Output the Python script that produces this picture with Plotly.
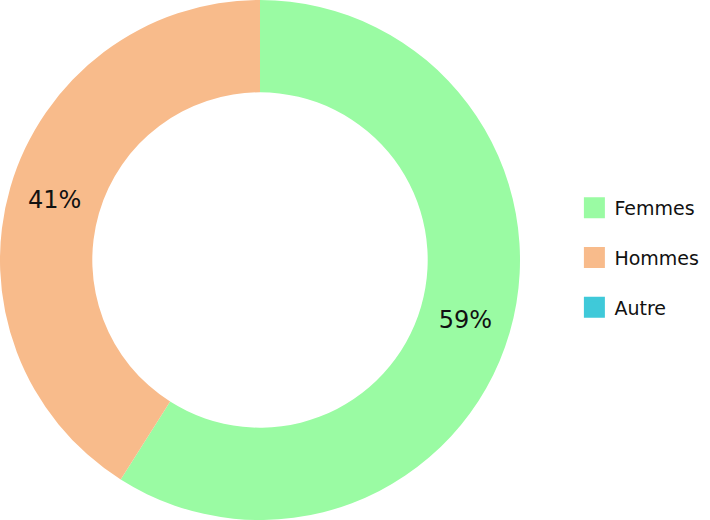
import plotly.graph_objects as go

labels = ["Femmes", "Hommes", "Autre"]
values = [59, 41, 0]
colors = ["#9afba3", "#f8bb8b", "#3fc9d9"]

total = sum(values)
texts = [f"{round(v / total * 100)}%" if v > 0 else "" for v in values]

fig = go.Figure()
fig.add_trace(go.Pie(
    labels=labels, values=values, text=texts,
    textinfo="text", textposition="inside", insidetextorientation="horizontal",
    hole=0.645, sort=False, direction="clockwise", rotation=0,
    marker=dict(colors=colors, line=dict(width=0)),
    textfont=dict(family="DejaVu Sans", size=24, color="#111111"),
    domain=dict(x=[0, 520 / 710], y=[0, 1]),
    showlegend=False, hoverinfo="none",
))

for lab, col in zip(labels, colors):
    fig.add_trace(go.Scatter(
        x=[None], y=[None], mode="markers", name=lab,
        legendgroup=lab,
        marker=dict(symbol="square", size=16, color=col, line=dict(color=col, width=5)),
        showlegend=True,
    ))

fig.update_layout(
    width=710, height=520,
    margin=dict(l=0, r=0, t=0, b=0),
    paper_bgcolor="white", plot_bgcolor="white",
    xaxis=dict(visible=False), yaxis=dict(visible=False),
    legend=dict(
        x=0.809, xanchor="left", y=0.504, yanchor="middle",
        font=dict(family="DejaVu Sans", size=19, color="#111111"),
        tracegroupgap=22, itemclick=False, itemdoubleclick=False,
    ),
)

fig.write_html("out.html", config={"displayModeBar": False},
               post_script="document.body.style.margin='0';")
